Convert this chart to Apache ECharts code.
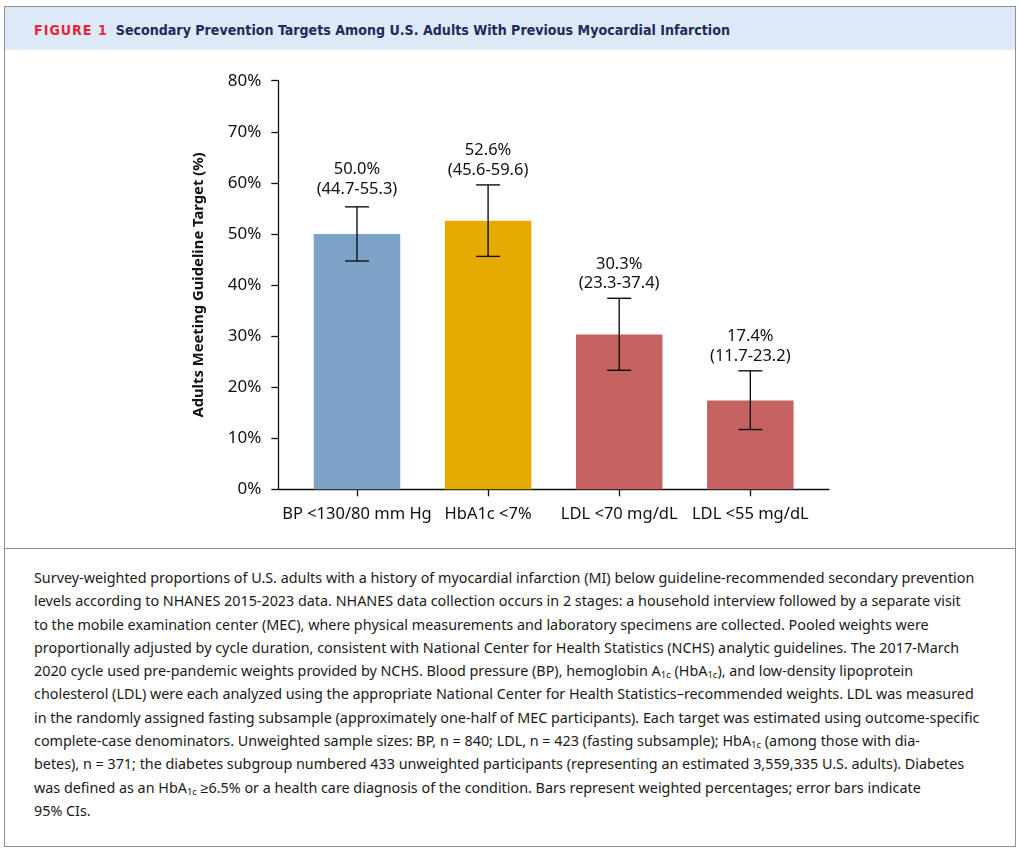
<!DOCTYPE html>
<html>
<head>
<meta charset="utf-8">
<script src="https://cdn.jsdelivr.net/npm/echarts@6/dist/echarts.min.js"></script>
<style>
  html, body { margin:0; padding:0; background:#fff; width:1020px; height:852px; overflow:hidden; }
  #frame { position:absolute; left:4px; top:6px; width:1010px; height:839px; border:1.5px solid #8f8f8f; box-sizing:content-box; }
  #header { position:absolute; left:0; top:0; width:1010px; height:43px; background:#dde9f7; }
  #header .t { position:absolute; left:29px; top:15px; font-family:"Liberation Sans Narrow","DejaVu Sans Condensed","Liberation Sans",sans-serif; font-weight:bold; font-size:14.1px; color:#1f2b5b; white-space:nowrap; }
  #header .fig { color:#e3263b; letter-spacing:1px; margin-right:8px; }
  #divider { position:absolute; left:0; top:541px; width:1010px; height:0; border-top:1.5px solid #8f8f8f; }
  #caption { position:absolute; left:29px; top:559px; font-family:"Noto Sans",sans-serif; font-size:14.35px; line-height:23.3px; color:#1a1a1a; white-space:nowrap; }
  #caption sub { font-size:9.5px; vertical-align:-2px; line-height:0; }
  #chart { position:absolute; left:0; top:0; width:1020px; height:852px; z-index:2; }
</style>
</head>
<body>
<div id="frame">
  <div id="header"><div class="t"><span class="fig">FIGURE 1</span>Secondary Prevention Targets Among U.S. Adults With Previous Myocardial Infarction</div></div>
  <div id="divider"></div>
  <div id="caption">
Survey-weighted proportions of U.S. adults with a history of myocardial infarction (MI) below guideline-recommended secondary prevention<br>
levels according to NHANES 2015-2023 data. NHANES data collection occurs in 2 stages: a household interview followed by a separate visit<br>
to the mobile examination center (MEC), where physical measurements and laboratory specimens are collected. Pooled weights were<br>
proportionally adjusted by cycle duration, consistent with National Center for Health Statistics (NCHS) analytic guidelines. The 2017-March<br>
2020 cycle used pre-pandemic weights provided by NCHS. Blood pressure (BP), hemoglobin A<sub>1c</sub> (HbA<sub>1c</sub>), and low-density lipoprotein<br>
cholesterol (LDL) were each analyzed using the appropriate National Center for Health Statistics–recommended weights. LDL was measured<br>
in the randomly assigned fasting subsample (approximately one-half of MEC participants). Each target was estimated using outcome-specific<br>
complete-case denominators. Unweighted sample sizes: BP, n = 840; LDL, n = 423 (fasting subsample); HbA<sub>1c</sub> (among those with dia-<br>
betes), n = 371; the diabetes subgroup numbered 433 unweighted participants (representing an estimated 3,559,335 U.S. adults). Diabetes<br>
was defined as an HbA<sub>1c</sub> ≥6.5% or a health care diagnosis of the condition. Bars represent weighted percentages; error bars indicate<br>
95% CIs.
  </div>
</div>
<div id="chart"></div>
<script>
const categories = ['BP <130/80 mm Hg', 'HbA1c <7%', 'LDL <70 mg/dL', 'LDL <55 mg/dL'];
const values = [50.0, 52.6, 30.3, 17.4];
const ciLow = [44.7, 45.6, 23.3, 11.7];
const ciHigh = [55.3, 59.6, 37.4, 23.2];

const barColors = ['#7ba2c7', '#e6ab00', '#c46361'];
const colorIndex = [0, 1, 2, 2];
const FONT = '"Noto Sans", sans-serif';

const chart = echarts.init(document.getElementById('chart'), null, { renderer: 'canvas' });
const idx = categories.map((c, i) => i);

chart.setOption({
  backgroundColor: 'transparent',
  animation: false,
  grid: { left: 278.3, right: 191, top: 80.7, bottom: 362.7, containLabel: false },
  xAxis: {
    type: 'value',
    min: -0.6, max: 3.6,
    splitLine: { show: false },
    axisLine: { show: true, onZero: false, lineStyle: { color: '#111', width: 1.3 } },
    axisTick: { show: true, customValues: idx, length: 7, lineStyle: { color: '#111', width: 1.3 } },
    axisLabel: {
      customValues: idx,
      formatter: v => categories[Math.round(v)],
      margin: 16, color: '#111', fontFamily: FONT, fontSize: 16.5
    }
  },
  yAxis: {
    type: 'value',
    min: 0, max: 80, interval: 10,
    name: 'Adults Meeting Guideline Target (%)',
    nameLocation: 'middle', nameGap: 72,
    nameTextStyle: { fontFamily: FONT, fontWeight: 'bold', fontSize: 14.8, color: '#111' },
    splitLine: { show: false },
    axisLine: { show: true, onZero: false, lineStyle: { color: '#111', width: 1.3 } },
    axisTick: { show: true, length: 7, lineStyle: { color: '#111', width: 1.3 } },
    axisLabel: { formatter: '{value}%', margin: 17, color: '#111', fontFamily: FONT, fontSize: 17 }
  },
  series: [
    {
      type: 'bar',
      barWidth: 86.5,
      data: values.map((v, i) => ({ value: [i, v], itemStyle: { color: barColors[colorIndex[i]] } })),
      z: 2
    },
    {
      type: 'custom',
      z: 3,
      data: values.map((v, i) => [i, ciLow[i], ciHigh[i], v]),
      renderItem: function (params, api) {
        const x = api.value(0), lo = api.value(1), hi = api.value(2), v = api.value(3);
        const pHi = api.coord([x, hi]);
        const pLo = api.coord([x, lo]);
        const cap = 12;
        const ls = { stroke: '#111', lineWidth: 1.4 };
        const gap = params.dataIndex === 0 ? 8 : 5;
        return {
          type: 'group',
          children: [
            { type: 'line', shape: { x1: pHi[0], y1: pHi[1], x2: pLo[0], y2: pLo[1] }, style: ls },
            { type: 'line', shape: { x1: pHi[0] - cap, y1: pHi[1], x2: pHi[0] + cap, y2: pHi[1] }, style: ls },
            { type: 'line', shape: { x1: pLo[0] - cap, y1: pLo[1], x2: pLo[0] + cap, y2: pLo[1] }, style: ls },
            {
              type: 'text',
              style: {
                text: v.toFixed(1) + '%\n(' + lo.toFixed(1) + '-' + hi.toFixed(1) + ')',
                x: pHi[0], y: pHi[1] - gap,
                align: 'center', verticalAlign: 'bottom',
                font: '16.5px ' + FONT, lineHeight: 19.5, fill: '#111'
              }
            }
          ]
        };
      }
    }
  ]
});
</script>
</body>
</html>
